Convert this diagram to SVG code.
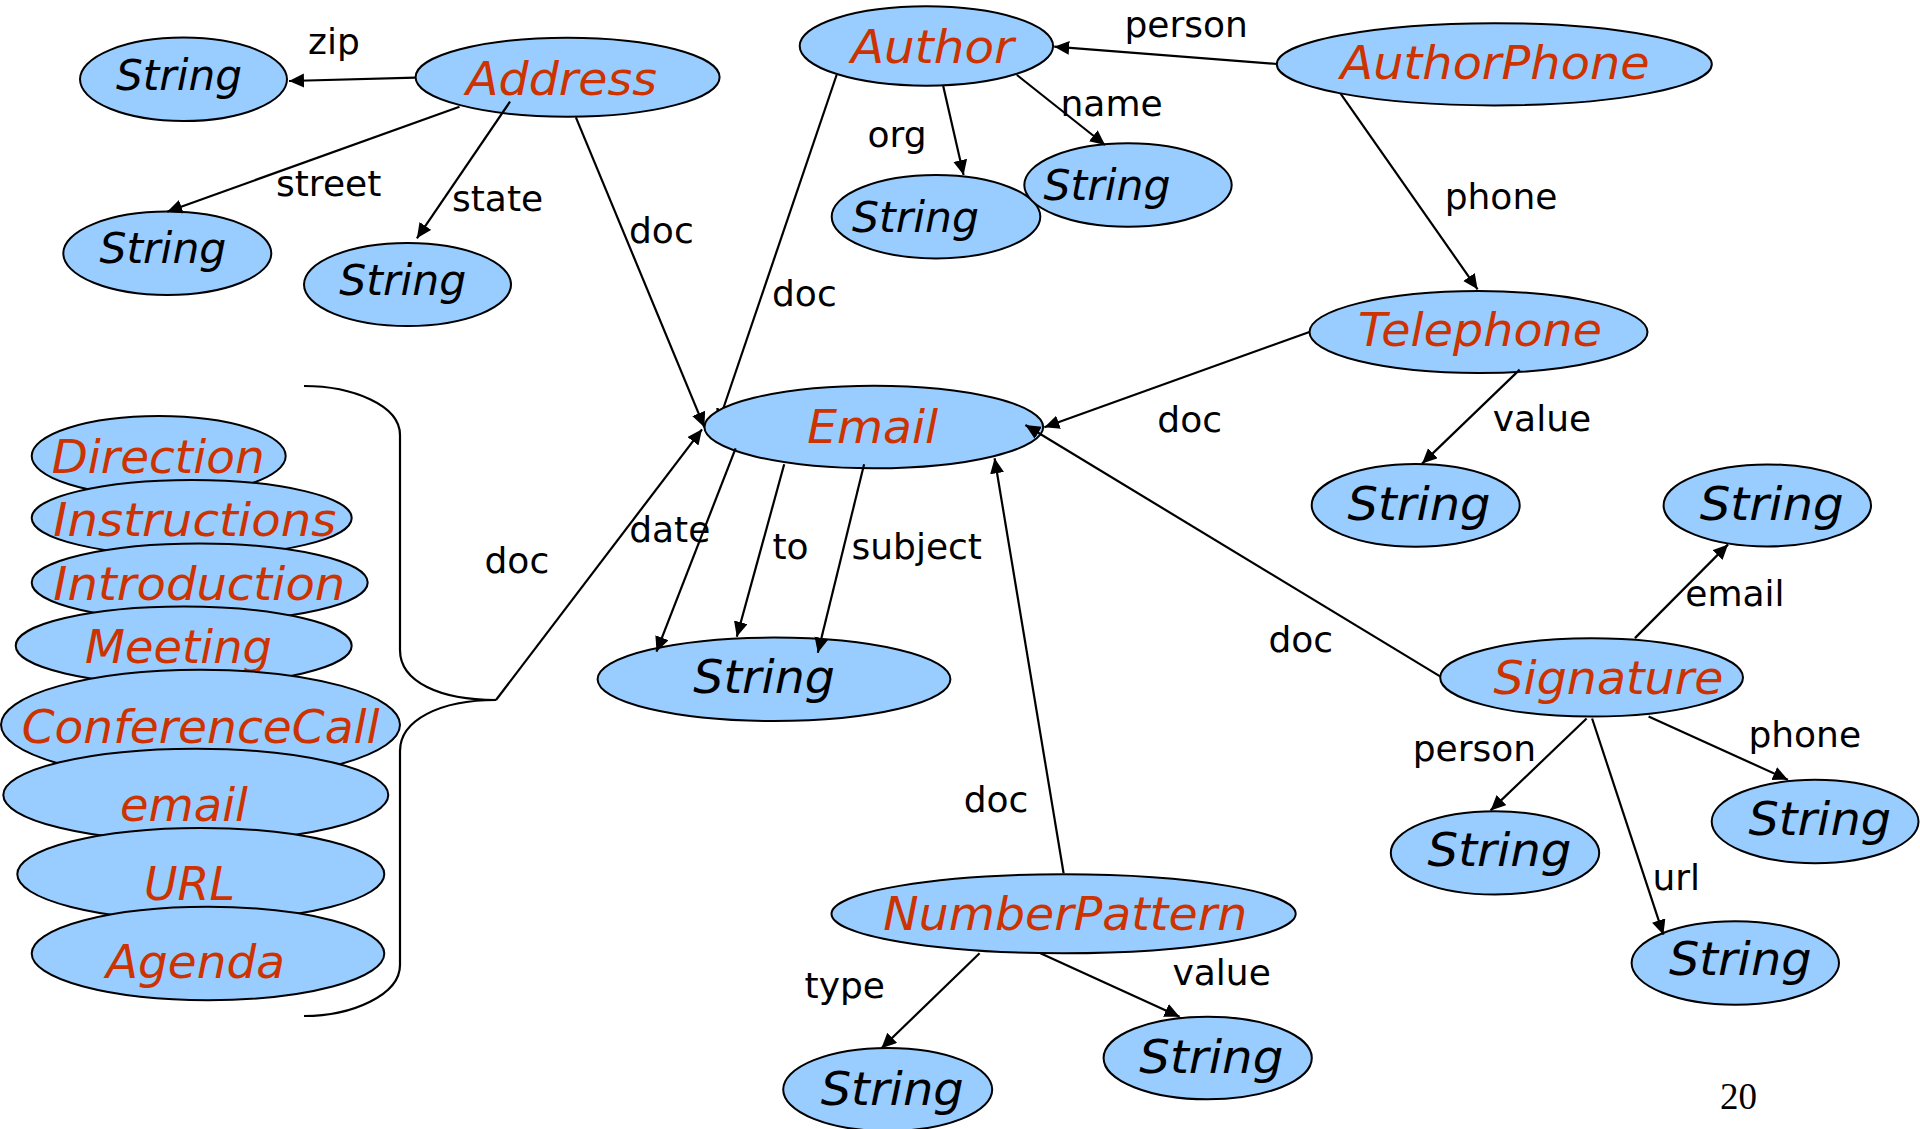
<svg xmlns="http://www.w3.org/2000/svg" width="1920" height="1129" viewBox="0 0 1920 1129">
  <style>
    .node ellipse { fill: #99CCFF; stroke: #000; stroke-width: 2; }
    .cls { font-family: "DejaVu Sans", Verdana, sans-serif; font-style: italic; font-size: 47px; fill: #CC3300; }
    .lit { font-family: "DejaVu Sans", Verdana, sans-serif; font-style: italic; font-size: 47px; fill: #000; }
    .lit.sm { font-size: 42.5px; }
    .lbl { font-family: "DejaVu Sans", Verdana, sans-serif; font-size: 36px; fill: #000; }
    .edge { stroke: #000; stroke-width: 2.2; fill: none; marker-end: url(#arr); }
    .brace { stroke: #000; stroke-width: 2.2; fill: none; }
    .pg { font-family: "Liberation Serif", "Times New Roman", serif; font-size: 37px; fill: #000; }
  </style>
  <defs>
    <marker id="arr" markerUnits="userSpaceOnUse" markerWidth="18" markerHeight="16" refX="15" refY="7" orient="auto">
      <path d="M0,0 L15,7 L0,14 z" fill="#000"/>
    </marker>
    <!-- everything except the inside of the Email ellipse -->
    <clipPath id="outside-email">
      <path clip-rule="evenodd" d="M0,0 H1920 V1129 H0 Z M704.4,427 a169.4,41.3 0 1,0 338.8,0 a169.4,41.3 0 1,0 -338.8,0 Z"/>
    </clipPath>
  </defs>
  <rect width="1920" height="1129" fill="#fff"/>

  <!-- class stack on the left -->
  <g id="n-direction" class="node">
    <ellipse cx="158.7" cy="456" rx="127" ry="40"/>
    <text class="cls" x="51.7" y="473" textLength="213" lengthAdjust="spacingAndGlyphs">Direction</text>
  </g>
  <g id="n-instructions" class="node">
    <ellipse cx="191.7" cy="518" rx="160" ry="38"/>
    <text class="cls" x="53.3" y="536" textLength="283" lengthAdjust="spacingAndGlyphs">Instructions</text>
  </g>
  <g id="n-introduction" class="node">
    <ellipse cx="199.7" cy="582.5" rx="168" ry="39"/>
    <text class="cls" x="53.3" y="600" textLength="292" lengthAdjust="spacingAndGlyphs">Introduction</text>
  </g>
  <g id="n-meeting" class="node">
    <ellipse cx="183.7" cy="645.7" rx="168" ry="39.2"/>
    <text class="cls" x="85" y="663.4" textLength="187" lengthAdjust="spacingAndGlyphs">Meeting</text>
  </g>
  <g id="n-conferencecall" class="node">
    <ellipse cx="200.5" cy="724.8" rx="199.5" ry="55"/>
    <text class="cls" x="21.7" y="742.5" textLength="358" lengthAdjust="spacingAndGlyphs">ConferenceCall</text>
  </g>
  <g id="n-email-class" class="node">
    <ellipse cx="195.8" cy="795" rx="192.5" ry="46.3"/>
    <text class="cls" x="120" y="821" textLength="128" lengthAdjust="spacingAndGlyphs">email</text>
  </g>
  <g id="n-url" class="node">
    <ellipse cx="200.8" cy="874.2" rx="183.5" ry="46.3"/>
    <text class="cls" x="144" y="899.5" textLength="91" lengthAdjust="spacingAndGlyphs">URL</text>
  </g>
  <g id="n-agenda" class="node">
    <ellipse cx="208" cy="953.5" rx="176.3" ry="46.7"/>
    <text class="cls" x="106" y="978" textLength="179" lengthAdjust="spacingAndGlyphs">Agenda</text>
  </g>

  <!-- Address and its properties -->
  <g id="n-address" class="node">
    <ellipse cx="567.6" cy="77.2" rx="152" ry="39.5"/>
    <text class="cls" x="466" y="95" textLength="191" lengthAdjust="spacingAndGlyphs">Address</text>
  </g>
  <g id="n-address-zip" class="node">
    <ellipse cx="183.5" cy="79.3" rx="103.5" ry="41.7"/>
    <text class="lit sm" x="116" y="90" textLength="126" lengthAdjust="spacingAndGlyphs">String</text>
  </g>
  <g id="n-address-street" class="node">
    <ellipse cx="167.3" cy="253.3" rx="104" ry="41.7"/>
    <text class="lit sm" x="99.4" y="263.3" textLength="127" lengthAdjust="spacingAndGlyphs">String</text>
  </g>
  <g id="n-address-state" class="node">
    <ellipse cx="407.5" cy="284.5" rx="103.5" ry="41.5"/>
    <text class="lit sm" x="339.3" y="295" textLength="127" lengthAdjust="spacingAndGlyphs">String</text>
  </g>

  <!-- Author and its properties -->
  <g id="n-author" class="node">
    <ellipse cx="926.4" cy="46" rx="126.7" ry="39.7"/>
    <text class="cls" x="851" y="63.3" textLength="163" lengthAdjust="spacingAndGlyphs">Author</text>
  </g>
  <g id="n-author-org" class="node">
    <ellipse cx="936" cy="216.7" rx="104.3" ry="41.7"/>
    <text class="lit sm" x="852" y="231.7" textLength="127" lengthAdjust="spacingAndGlyphs">String</text>
  </g>
  <g id="n-author-name" class="node">
    <ellipse cx="1128" cy="185" rx="103.7" ry="41.7"/>
    <text class="lit sm" x="1043.6" y="200" textLength="127" lengthAdjust="spacingAndGlyphs">String</text>
  </g>

  <!-- AuthorPhone, Telephone -->
  <g id="n-authorphone" class="node">
    <ellipse cx="1494.3" cy="64.3" rx="217.5" ry="41.1"/>
    <text class="cls" x="1340.6" y="78.6" textLength="309" lengthAdjust="spacingAndGlyphs">AuthorPhone</text>
  </g>
  <g id="n-telephone" class="node">
    <ellipse cx="1478.5" cy="332.1" rx="169" ry="41"/>
    <text class="cls" x="1358" y="346.4" textLength="244" lengthAdjust="spacingAndGlyphs">Telephone</text>
  </g>
  <g id="n-telephone-value" class="node">
    <ellipse cx="1415.7" cy="505.3" rx="104" ry="41.4"/>
    <text class="lit" x="1347.5" y="519.6" textLength="143" lengthAdjust="spacingAndGlyphs">String</text>
  </g>

  <!-- Email and its properties -->
  <g id="n-email" class="node">
    <ellipse cx="873.8" cy="427" rx="169.4" ry="41.3"/>
    <text class="cls" x="807.2" y="442.7" textLength="131" lengthAdjust="spacingAndGlyphs">Email</text>
  </g>
  <g id="n-email-fields" class="node">
    <ellipse cx="774" cy="679.3" rx="176.4" ry="41.7"/>
    <text class="lit" x="693.3" y="693.3" textLength="141.5" lengthAdjust="spacingAndGlyphs">String</text>
  </g>

  <!-- Signature and its properties -->
  <g id="n-signature" class="node">
    <ellipse cx="1591.6" cy="677.4" rx="151.4" ry="39.2"/>
    <text class="cls" x="1493.4" y="693.6" textLength="230" lengthAdjust="spacingAndGlyphs">Signature</text>
  </g>
  <g id="n-signature-email" class="node">
    <ellipse cx="1767.3" cy="505.4" rx="103.7" ry="41"/>
    <text class="lit" x="1699.7" y="519.6" textLength="144" lengthAdjust="spacingAndGlyphs">String</text>
  </g>
  <g id="n-signature-phone" class="node">
    <ellipse cx="1815.1" cy="821.5" rx="103.4" ry="41.7"/>
    <text class="lit" x="1748.4" y="835.2" textLength="142.6" lengthAdjust="spacingAndGlyphs">String</text>
  </g>
  <g id="n-signature-person" class="node">
    <ellipse cx="1495" cy="852.9" rx="104.2" ry="41.7"/>
    <text class="lit" x="1427.5" y="865.8" textLength="144" lengthAdjust="spacingAndGlyphs">String</text>
  </g>
  <g id="n-signature-url" class="node">
    <ellipse cx="1735.3" cy="963" rx="103.7" ry="41.7"/>
    <text class="lit" x="1668.9" y="974.9" textLength="142.6" lengthAdjust="spacingAndGlyphs">String</text>
  </g>

  <!-- NumberPattern and its properties -->
  <g id="n-numberpattern" class="node">
    <ellipse cx="1063.6" cy="913.8" rx="232.1" ry="39.5"/>
    <text class="cls" x="883.2" y="930" textLength="364" lengthAdjust="spacingAndGlyphs">NumberPattern</text>
  </g>
  <g id="n-numberpattern-type" class="node">
    <ellipse cx="887.7" cy="1089.5" rx="104.5" ry="41.5"/>
    <text class="lit" x="820.7" y="1105" textLength="143" lengthAdjust="spacingAndGlyphs">String</text>
  </g>
  <g id="n-numberpattern-value" class="node">
    <ellipse cx="1207.7" cy="1058" rx="104.1" ry="41.3"/>
    <text class="lit" x="1139.3" y="1073.3" textLength="144" lengthAdjust="spacingAndGlyphs">String</text>
  </g>

  <!-- connectors -->
  <g id="connectors">
    <path class="brace" d="M304,386 C352,386 400,405 400,435 L400,650 C400,682 440,700 496,700 C440,700 400,720 400,751 L400,965 C400,995 352,1016 304,1016"/>
    <path class="edge" d="M496,700 L702,429.3"/>
    <path class="edge" d="M415.4,77.7 L289,81"/>
    <path class="edge" d="M459.5,106.7 L167.2,211.7"/>
    <path class="edge" d="M510,101.7 L416.9,238.3"/>
    <path class="edge" d="M575.9,117.3 L704.4,427.3"/>
    <!-- Author doc: its head sits under the Email ellipse -->
    <path class="edge" clip-path="url(#outside-email)" d="M836.6,75 L718,424"/>
    <path class="edge" d="M1277.2,64 L1054.2,46.7"/>
    <path class="edge" d="M943.2,86 L963.6,175"/>
    <path class="edge" d="M1016.9,75 L1105.1,145"/>
    <path class="edge" d="M1340.6,93.6 L1477.6,289.3"/>
    <path class="edge" d="M1309.4,332 L1044.4,427.3"/>
    <path class="edge" d="M1519.7,369.6 L1422.1,463.6"/>
    <path class="edge" d="M1440.1,676.4 L1025.4,425"/>
    <path class="edge" d="M1634.9,638.1 L1728.1,544.4"/>
    <path class="edge" d="M1648.6,716.6 L1787.9,779.7"/>
    <path class="edge" d="M1586.6,718.5 L1490.6,810.4"/>
    <path class="edge" d="M1592.1,718.5 L1663.4,934.7"/>
    <path class="edge" d="M1063.6,873.3 L994.6,458.3"/>
    <path class="edge" d="M979.6,953.3 L881.4,1048.3"/>
    <path class="edge" d="M1040.4,953.3 L1179.6,1016.7"/>
    <path class="edge" d="M735.6,448.3 L656.5,651.7"/>
    <path class="edge" d="M784.2,464.3 L736.8,636.7"/>
    <path class="edge" d="M864.1,464.3 L817.8,652.7"/>
  </g>

  <!-- connector labels -->
  <g id="labels">
    <text class="lbl" x="308" y="54">zip</text>
    <text class="lbl" x="276" y="196">street</text>
    <text class="lbl" x="452" y="210.5">state</text>
    <text class="lbl" x="629" y="243">doc</text>
    <text class="lbl" x="772" y="305.5">doc</text>
    <text class="lbl" x="1124.5" y="36.7">person</text>
    <text class="lbl" x="867.6" y="147">org</text>
    <text class="lbl" x="1060.5" y="116">name</text>
    <text class="lbl" x="1444.7" y="209">phone</text>
    <text class="lbl" x="1157.3" y="431.5">doc</text>
    <text class="lbl" x="1492.8" y="430.7">value</text>
    <text class="lbl" x="1268.4" y="651.5">doc</text>
    <text class="lbl" x="1685.3" y="605.8">email</text>
    <text class="lbl" x="1748.4" y="746.5">phone</text>
    <text class="lbl" x="1412.7" y="760.5">person</text>
    <text class="lbl" x="1652.4" y="889.5">url</text>
    <text class="lbl" x="963.7" y="811.8">doc</text>
    <text class="lbl" x="804.6" y="997.5">type</text>
    <text class="lbl" x="1172.5" y="985">value</text>
    <text class="lbl" x="629.2" y="541.8">date</text>
    <text class="lbl" x="772.4" y="558.5">to</text>
    <text class="lbl" x="851.5" y="558.8">subject</text>
    <text class="lbl" x="484.5" y="572.5">doc</text>
  </g>

  <text class="pg" x="1720" y="1109">20</text>
</svg>
